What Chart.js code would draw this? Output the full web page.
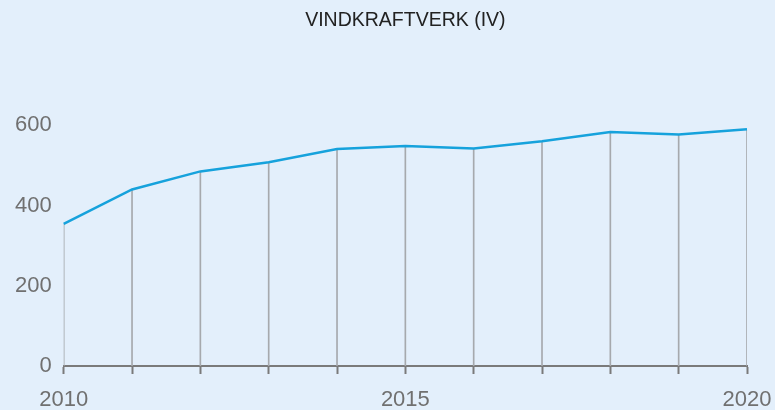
<!DOCTYPE html>
<html>
<head>
<meta charset="utf-8">
<script src="https://cdn.jsdelivr.net/npm/chart.js@4/dist/chart.umd.min.js"></script>
<style>
  html, body { margin: 0; padding: 0; background: #e3effb; }
  #wrap { width: 775px; height: 410px; }
</style>
</head>
<body>
<div id="wrap"><canvas id="chart"></canvas></div>
<script>
const titleText = 'VINDKRAFTVERK (IV)';
const years = ['2010', '2011', '2012', '2013', '2014', '2015', '2016', '2017', '2018', '2019', '2020'];
const plants = [354, 440, 485, 508, 541, 548, 542, 560, 583, 577, 590];
const yTicks = [0, 200, 400, 600];
const shownYears = ['2010', '2015', '2020'];

const ctx = document.getElementById('chart').getContext('2d');
const font = "'Liberation Sans', Arial, sans-serif";

// Title centred over the plot area rather than the whole canvas
const plotTitle = {
    id: 'plotTitle',
    afterDraw(chart) {
        const { ctx, chartArea } = chart;
        ctx.save();
        ctx.font = '19.5px ' + font;
        ctx.fillStyle = '#222';
        ctx.textAlign = 'center';
        ctx.textBaseline = 'middle';
        ctx.fillText(titleText, (chartArea.left + chartArea.right) / 2, 21);
        ctx.restore();
    }
};

new Chart(ctx, {
    data: {
        labels: years,
        datasets: [{
            type: 'line',
            data: plants,
            borderColor: '#16a2dc',
            borderWidth: 2.5,
            pointRadius: 0,
            tension: 0,
            order: 0
        }, {
            // thin bars act as drop lines from each point to the axis
            type: 'bar',
            data: plants,
            backgroundColor: '#a6a9ad',
            barThickness: 1,
            order: 1
        }]
    },
    plugins: [plotTitle],
    options: {
        responsive: true,
        maintainAspectRatio: false,
        animation: false,
        layout: { padding: { left: 11, right: 28, top: 45, bottom: -16 } },
        plugins: {
            legend: { display: false },
            tooltip: { enabled: false },
            title: { display: false }
        },
        scales: {
            x: {
                offset: false,
                grid: {
                    offset: false,
                    drawOnChartArea: false,
                    drawTicks: true,
                    tickLength: 8,
                    tickWidth: 2,
                    color: '#7a7a7a'
                },
                border: { display: true, color: '#7a7a7a', width: 2 },
                afterFit: axis => {
                    // end labels may overhang the plot edges
                    axis.paddingLeft = 0;
                    axis.paddingRight = 0;
                },
                ticks: {
                    autoSkip: false,
                    maxRotation: 0,
                    color: '#707070',
                    padding: 15,
                    font: { family: font, size: 22, lineHeight: 1 },
                    callback: function (value) {
                        const y = this.getLabelForValue(value);
                        return shownYears.includes(y) ? y : '';
                    }
                }
            },
            y: {
                min: 0,
                max: 800,
                grid: { display: false },
                border: { display: false },
                afterBuildTicks: axis => {
                    axis.ticks = yTicks.map(v => ({ value: v }));
                },
                ticks: {
                    color: '#707070',
                    padding: 4,
                    font: { family: font, size: 22 }
                }
            }
        }
    }
});
</script>
</body>
</html>
